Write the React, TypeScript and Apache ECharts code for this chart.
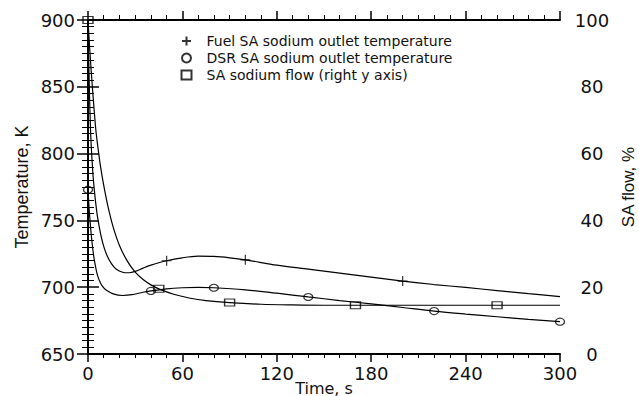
import React, { useEffect, useRef } from "react";
import * as echarts from "echarts";

// ---- Data ----
const fuelTime = [0, 0.5, 1, 1.5, 2, 3, 4, 5, 6, 8, 10, 12, 15, 18, 22, 26, 30, 35, 40, 50, 60, 70, 80, 90, 100, 120, 140, 160, 180, 200, 220, 240, 260, 280, 300];
const fuelTemp = [900, 868, 842, 822, 807, 787, 773, 762, 753, 740, 730.5, 724, 717.5, 713.5, 711.2, 710.8, 711.8, 714.3, 716.5, 719.8, 722, 723.2, 723, 722, 720.5, 716.5, 713.5, 710.5, 707.5, 704.6, 702, 699.8, 697.5, 695.2, 693];

const dsrTime = [0, 0.5, 1, 2, 3, 4, 6, 8, 10, 12, 16, 22, 28, 35, 40, 50, 60, 70, 80, 100, 120, 140, 160, 180, 200, 220, 240, 260, 280, 300];
const dsrTemp = [773, 763, 754, 740, 729, 720.5, 709, 703, 699.5, 697.5, 695, 693.8, 694.4, 696.2, 697.2, 698.8, 699.6, 699.9, 699.6, 698, 695.5, 692.7, 690, 687.5, 684.8, 682.1, 679.9, 677.9, 675.9, 674.2];

const flowTime = [0, 1, 2, 3, 4, 5, 6, 8, 10, 13, 16, 20, 25, 30, 35, 40, 45, 55, 65, 75, 90, 110, 130, 150, 170, 200, 260, 300];
const flowPct = [100, 92, 85, 78.5, 72.5, 67, 63, 56, 50.5, 43.5, 38, 32.5, 27.8, 24.5, 22.3, 20.7, 19.5, 17.8, 16.7, 16, 15.4, 14.9, 14.7, 14.6, 14.6, 14.6, 14.6, 14.6];

const fuelMarkTimes = [50, 100, 200];
const dsrMarkTimes = [0, 40, 80, 140, 220, 300];
const flowMarkTimes = [0, 45, 90, 170, 260];

const xTicks = [0, 60, 120, 180, 240, 300];
const tempTicks = [650, 700, 750, 800, 850, 900];
const flowTicks = [0, 20, 40, 60, 80, 100];

const seriesNames = [
  "Fuel SA sodium outlet temperature",
  "DSR SA sodium outlet temperature",
  "SA sodium flow (right y axis)",
];

const zip = (xs: number[], ys: number[]) => xs.map((x, i) => [x, ys[i]]);
const pick = (xs: number[], ys: number[], ts: number[]) =>
  ts.map((t) => [t, ys[xs.indexOf(t)]]);

const FONT = "DejaVu Sans";
const PLUS = "path://M5,0L5,10M0,5L10,5";

export default function App() {
  const ref = useRef<HTMLDivElement>(null);
  useEffect(() => {
    if (!ref.current) return;
    const chart = echarts.init(ref.current, undefined, { renderer: "svg" });
    const axisLine = { show: true, lineStyle: { color: "#000", width: 2 } };
    const lbl = { fontFamily: FONT, fontSize: 18, color: "#111" };
    const lineSeries = (name: string, data: number[][], yAxisIndex: number) => ({
      name,
      type: "line",
      data,
      yAxisIndex,
      showSymbol: false,
      symbol: "none",
      smooth: 0.3,
      lineStyle: { color: "#000", width: 1.2 },
      silent: true,
      z: 2,
    });
    const markSeries = (name: string, data: number[][], yAxisIndex: number, symbol: string, size: number[]) => ({
      name,
      type: "scatter",
      data,
      yAxisIndex,
      symbol,
      symbolSize: size,
      itemStyle: { color: "none", borderColor: "#000", borderWidth: 1.2 },
      z: 3,
    });
    chart.setOption({
      animation: false,
      backgroundColor: "#fff",
      grid: { left: 88, right: 79, top: 20, bottom: 42, containLabel: false, outerBoundsMode: "none" },
      legend: {
        orient: "vertical",
        left: 174,
        top: 29,
        itemWidth: 10,
        itemHeight: 9,
        itemGap: 3,
        data: seriesNames,
        textStyle: { fontFamily: FONT, fontSize: 14, color: "#111", padding: [0, 0, 0, 10] },
        selectedMode: false,
      },
      xAxis: [
        {
          type: "value",
          min: xTicks[0],
          max: xTicks[xTicks.length - 1],
          interval: xTicks[1] - xTicks[0],
          position: "bottom",
          axisLine,
          axisTick: { show: true, inside: false, length: 8, lineStyle: { color: "#000", width: 1.5 } },
          minorTick: { show: true, splitNumber: 6, length: 4, lineStyle: { color: "#000", width: 1 } },
          splitLine: { show: false },
          axisLabel: { ...lbl, margin: 10 },
          name: "Time, s",
          nameLocation: "middle",
          nameGap: 26,
          nameMoveOverlap: false,
          nameTextStyle: { fontFamily: FONT, fontSize: 16, color: "#111" },
        },
        {
          type: "value",
          min: xTicks[0],
          max: xTicks[xTicks.length - 1],
          interval: xTicks[1] - xTicks[0],
          position: "top",
          axisLine,
          axisTick: { show: true, inside: false, length: 9, lineStyle: { color: "#000", width: 1.5 } },
          minorTick: { show: true, splitNumber: 6, length: 5, lineStyle: { color: "#000", width: 1 } },
          splitLine: { show: false },
          axisLabel: { show: false },
        },
      ],
      yAxis: [
        {
          type: "value",
          min: tempTicks[0],
          max: tempTicks[tempTicks.length - 1],
          interval: tempTicks[1] - tempTicks[0],
          position: "left",
          axisLine,
          axisTick: { show: true, inside: false, length: 11, lineStyle: { color: "#000", width: 1.5 } },
          minorTick: { show: true, splitNumber: 10, length: 6, lineStyle: { color: "#000", width: 1 } },
          splitLine: { show: false },
          axisLabel: { ...lbl, margin: 13 },
          name: "Temperature, K",
          nameLocation: "middle",
          nameGap: 57,
          nameMoveOverlap: false,
          nameTextStyle: { fontFamily: "Liberation Sans", fontSize: 18, color: "#111" },
        },
        {
          type: "value",
          min: flowTicks[0],
          max: flowTicks[flowTicks.length - 1],
          interval: flowTicks[1] - flowTicks[0],
          position: "right",
          axisLine,
          axisTick: { show: true, inside: false, length: 11, lineStyle: { color: "#000", width: 1.5 } },
          minorTick: { show: true, splitNumber: 10, length: 6, lineStyle: { color: "#000", width: 1 } },
          splitLine: { show: false },
          axisLabel: { ...lbl, margin: 32, align: "center" },
          name: "SA flow, %",
          nameLocation: "middle",
          nameGap: 60,
          nameMoveOverlap: false,
          nameTextStyle: { fontFamily: "Liberation Sans", fontSize: 17, color: "#111" },
        },
      ],
      series: [
        lineSeries("fuelLine", zip(fuelTime, fuelTemp), 0),
        lineSeries("dsrLine", zip(dsrTime, dsrTemp), 0),
        lineSeries("flowLine", zip(flowTime, flowPct), 1),
        markSeries(seriesNames[0], pick(fuelTime, fuelTemp, fuelMarkTimes), 0, PLUS, [10, 10]),
        markSeries(seriesNames[1], pick(dsrTime, dsrTemp, dsrMarkTimes), 0, "circle", [9, 7]),
        markSeries(seriesNames[2], pick(flowTime, flowPct, flowMarkTimes), 1, "rect", [10, 7]),
      ],
    });
    return () => chart.dispose();
  }, []);
  return (
    <div
      ref={ref}
      style={{ position: "fixed", left: 0, top: 0, width: 639, height: 396, background: "#fff" }}
    />
  );
}
